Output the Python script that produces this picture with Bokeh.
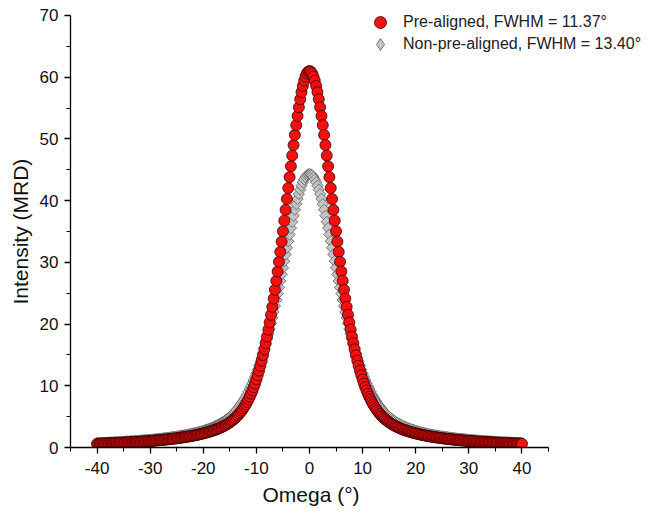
import math
from bokeh.plotting import figure
from bokeh.models import FixedTicker, Legend, LegendItem, Title
from bokeh.embed import file_html
from bokeh.resources import INLINE

# ---- data ----
# sampling grid of the omega scan: -40 .. 40 deg, step 0.25 deg
omega = [i * 0.25 for i in range(-160, 161)]

pre_aligned = [
    0.60, 0.61, 0.62, 0.63, 0.63, 0.64, 0.65, 0.66, 0.67, 0.68,
    0.69, 0.69, 0.70, 0.71, 0.72, 0.73, 0.74, 0.75, 0.76, 0.77,
    0.78, 0.80, 0.81, 0.82, 0.83, 0.84, 0.85, 0.87, 0.88, 0.89,
    0.91, 0.92, 0.93, 0.95, 0.96, 0.98, 0.99, 1.01, 1.02, 1.04,
    1.06, 1.07, 1.09, 1.11, 1.13, 1.15, 1.17, 1.19, 1.21, 1.23,
    1.25, 1.27, 1.29, 1.32, 1.34, 1.37, 1.39, 1.42, 1.44, 1.47,
    1.50, 1.53, 1.56, 1.59, 1.62, 1.65, 1.69, 1.72, 1.76, 1.79,
    1.83, 1.87, 1.91, 1.95, 1.99, 2.04, 2.08, 2.13, 2.18, 2.23,
    2.29, 2.34, 2.40, 2.46, 2.52, 2.58, 2.65, 2.72, 2.80, 2.87,
    2.95, 3.04, 3.13, 3.23, 3.33, 3.43, 3.55, 3.67, 3.79, 3.93,
    4.08, 4.23, 4.40, 4.58, 4.77, 4.98, 5.21, 5.45, 5.71, 5.99,
    6.30, 6.63, 6.98, 7.37, 7.78, 8.23, 8.71, 9.23, 9.78, 10.38,
    11.02, 11.71, 12.45, 13.23, 14.07, 14.96, 15.90, 16.91, 17.97, 19.08,
    20.26, 21.49, 22.79, 24.14, 25.55, 27.01, 28.52, 30.09, 31.70, 33.35,
    35.04, 36.76, 38.51, 40.27, 42.04, 43.81, 45.57, 47.31, 49.00, 50.65,
    52.23, 53.73, 55.13, 56.42, 57.58, 58.59, 59.44, 60.11, 60.60, 60.90,
    61.00,
    60.90, 60.60, 60.11, 59.44, 58.59, 57.58, 56.42, 55.13, 53.73, 52.23,
    50.65, 49.00, 47.31, 45.57, 43.81, 42.04, 40.27, 38.51, 36.76, 35.04,
    33.35, 31.70, 30.09, 28.52, 27.01, 25.55, 24.14, 22.79, 21.49, 20.26,
    19.08, 17.97, 16.91, 15.90, 14.96, 14.07, 13.23, 12.45, 11.71, 11.02,
    10.38, 9.78, 9.23, 8.71, 8.23, 7.78, 7.37, 6.98, 6.63, 6.30,
    5.99, 5.71, 5.45, 5.21, 4.98, 4.77, 4.58, 4.40, 4.23, 4.08,
    3.93, 3.79, 3.67, 3.55, 3.43, 3.33, 3.23, 3.13, 3.04, 2.95,
    2.87, 2.80, 2.72, 2.65, 2.58, 2.52, 2.46, 2.40, 2.34, 2.29,
    2.23, 2.18, 2.13, 2.08, 2.04, 1.99, 1.95, 1.91, 1.87, 1.83,
    1.79, 1.76, 1.72, 1.69, 1.65, 1.62, 1.59, 1.56, 1.53, 1.50,
    1.47, 1.44, 1.42, 1.39, 1.37, 1.34, 1.32, 1.29, 1.27, 1.25,
    1.23, 1.21, 1.19, 1.17, 1.15, 1.13, 1.11, 1.09, 1.07, 1.06,
    1.04, 1.02, 1.01, 0.99, 0.98, 0.96, 0.95, 0.93, 0.92, 0.91,
    0.89, 0.88, 0.87, 0.85, 0.84, 0.83, 0.82, 0.81, 0.80, 0.78,
    0.77, 0.76, 0.75, 0.74, 0.73, 0.72, 0.71, 0.70, 0.69, 0.69,
    0.68, 0.67, 0.66, 0.65, 0.64, 0.63, 0.63, 0.62, 0.61, 0.60,
]

non_pre_aligned = [
    0.73, 0.73, 0.74, 0.75, 0.76, 0.77, 0.78, 0.79, 0.80, 0.81,
    0.82, 0.83, 0.84, 0.86, 0.87, 0.88, 0.89, 0.90, 0.91, 0.93,
    0.94, 0.95, 0.97, 0.98, 0.99, 1.01, 1.02, 1.04, 1.05, 1.07,
    1.08, 1.10, 1.12, 1.13, 1.15, 1.17, 1.19, 1.20, 1.22, 1.24,
    1.26, 1.28, 1.30, 1.33, 1.35, 1.37, 1.39, 1.42, 1.44, 1.46,
    1.49, 1.52, 1.54, 1.57, 1.60, 1.63, 1.66, 1.69, 1.72, 1.75,
    1.78, 1.82, 1.85, 1.89, 1.92, 1.96, 2.00, 2.04, 2.08, 2.13,
    2.17, 2.22, 2.27, 2.32, 2.37, 2.42, 2.48, 2.53, 2.59, 2.65,
    2.72, 2.79, 2.86, 2.93, 3.01, 3.09, 3.17, 3.26, 3.35, 3.45,
    3.56, 3.66, 3.78, 3.90, 4.03, 4.16, 4.31, 4.46, 4.62, 4.79,
    4.97, 5.16, 5.37, 5.58, 5.81, 6.06, 6.32, 6.59, 6.88, 7.19,
    7.52, 7.87, 8.24, 8.62, 9.04, 9.47, 9.93, 10.41, 10.92, 11.46,
    12.02, 12.61, 13.23, 13.88, 14.55, 15.26, 15.99, 16.76, 17.56, 18.38,
    19.23, 20.12, 21.02, 21.96, 22.92, 23.91, 24.92, 25.94, 26.99, 28.05,
    29.12, 30.20, 31.28, 32.36, 33.44, 34.50, 35.55, 36.57, 37.56, 38.52,
    39.42, 40.27, 41.06, 41.78, 42.43, 42.98, 43.45, 43.82, 44.09, 44.25,
    44.30,
    44.25, 44.09, 43.82, 43.45, 42.98, 42.43, 41.78, 41.06, 40.27, 39.42,
    38.52, 37.56, 36.57, 35.55, 34.50, 33.44, 32.36, 31.28, 30.20, 29.12,
    28.05, 26.99, 25.94, 24.92, 23.91, 22.92, 21.96, 21.02, 20.12, 19.23,
    18.38, 17.56, 16.76, 15.99, 15.26, 14.55, 13.88, 13.23, 12.61, 12.02,
    11.46, 10.92, 10.41, 9.93, 9.47, 9.04, 8.62, 8.24, 7.87, 7.52,
    7.19, 6.88, 6.59, 6.32, 6.06, 5.81, 5.58, 5.37, 5.16, 4.97,
    4.79, 4.62, 4.46, 4.31, 4.16, 4.03, 3.90, 3.78, 3.66, 3.56,
    3.45, 3.35, 3.26, 3.17, 3.09, 3.01, 2.93, 2.86, 2.79, 2.72,
    2.65, 2.59, 2.53, 2.48, 2.42, 2.37, 2.32, 2.27, 2.22, 2.17,
    2.13, 2.08, 2.04, 2.00, 1.96, 1.92, 1.89, 1.85, 1.82, 1.78,
    1.75, 1.72, 1.69, 1.66, 1.63, 1.60, 1.57, 1.54, 1.52, 1.49,
    1.46, 1.44, 1.42, 1.39, 1.37, 1.35, 1.33, 1.30, 1.28, 1.26,
    1.24, 1.22, 1.20, 1.19, 1.17, 1.15, 1.13, 1.12, 1.10, 1.08,
    1.07, 1.05, 1.04, 1.02, 1.01, 0.99, 0.98, 0.97, 0.95, 0.94,
    0.93, 0.91, 0.90, 0.89, 0.88, 0.87, 0.86, 0.84, 0.83, 0.82,
    0.81, 0.80, 0.79, 0.78, 0.77, 0.76, 0.75, 0.74, 0.73, 0.73,
]

x_ticks = [-40, -30, -20, -10, 0, 10, 20, 30, 40]
x_minor = [-45, -35, -25, -15, -5, 5, 15, 25, 35, 45]
y_ticks = [0, 10, 20, 30, 40, 50, 60, 70]
y_minor = [5, 15, 25, 35, 45, 55, 65]

x_title = "Omega (°)"
y_title = "Intensity (MRD)"
label_pre = "Pre-aligned, FWHM = 11.37°"
label_non = "Non-pre-aligned, FWHM = 13.40°"

assert len(omega) == len(pre_aligned) == len(non_pre_aligned)

FONT = "Liberation Sans"

# the frame extends to the right and top edges so that the legend is not
# clipped; the axes themselves are bounded to -45..45 and 0..70
p = figure(width=648, height=519, output_backend="svg", toolbar_location=None,
           x_range=(-45, 63.83), y_range=(0, 72.43),
           min_border_left=70, min_border_right=0,
           min_border_top=0, min_border_bottom=72)
p.outline_line_color = None
p.xgrid.visible = False
p.ygrid.visible = False
p.background_fill_color = "white"
p.border_fill_color = "white"

r_non = p.scatter(omega, non_pre_aligned, marker="square", angle=math.pi / 4,
                  size=8, fill_color="#c4c4c4", line_color="#5e5e5e", line_width=0.8)
r_pre = p.scatter(omega, pre_aligned, marker="circle", size=11,
                  fill_color="#f51010", line_color="#3c0000", line_width=0.8)
# hidden renderer that only provides the diamond symbol of the legend
r_non_key = p.scatter(omega, non_pre_aligned, marker="diamond", size=20,
                      fill_color="#c4c4c4", line_color="#5e5e5e", line_width=0.8,
                      visible=False)

for ax, ticks, minor, lstand in ((p.xaxis[0], x_ticks, x_minor, 8),
                                 (p.yaxis[0], y_ticks, y_minor, 6)):
    ax.ticker = FixedTicker(ticks=ticks, minor_ticks=minor)
    ax.major_label_overrides = {t: str(t) for t in ticks}
    ax.major_label_text_font = FONT
    ax.major_label_text_font_size = "17px"
    ax.major_label_text_color = "#111111"
    ax.major_label_standoff = lstand
    ax.axis_line_color = "black"
    ax.axis_line_width = 1.3
    ax.major_tick_line_color = "black"
    ax.major_tick_line_width = 1.3
    ax.minor_tick_line_color = "black"
    ax.minor_tick_line_width = 1.1
    ax.major_tick_in = 0
    ax.major_tick_out = 6
    ax.minor_tick_in = 0
    ax.minor_tick_out = 4
p.xaxis[0].bounds = (-45, 45)
p.yaxis[0].bounds = (0, 70)

# axis titles centred on the bounded axes (not on the wider frame)
xt = Title(text=x_title, align="left", offset=192, standoff=8,
           text_font=FONT, text_font_style="normal", text_font_size="21px",
           text_color="#111111")
p.add_layout(xt, "below")
yt = Title(text=y_title, align="left", offset=143, standoff=10,
           text_font=FONT, text_font_style="normal", text_font_size="21px",
           text_color="#111111")
p.add_layout(yt, "left")


# legend symbols are 0.4 x the glyph box, so a 30 px box gives 12 px symbols;
# one legend per entry keeps the row pitch at ~22 px as in the reference
def make_legend(label, renderer, loc):
    lg = Legend(items=[LegendItem(label=label, renderers=[renderer])], location=loc)
    lg.label_text_font = FONT
    lg.label_text_font_size = "16px"
    lg.label_text_color = "#222222"
    lg.border_line_color = None
    lg.background_fill_alpha = 0
    lg.inactive_fill_alpha = 0
    lg.padding = 0
    lg.margin = 0
    lg.spacing = 0
    lg.glyph_width = 30
    lg.glyph_height = 30
    lg.label_height = 30
    lg.label_standoff = 8
    return lg


p.add_layout(make_legend(label_pre, r_pre, (295, 410)))
p.add_layout(make_legend(label_non, r_non_key, (295, 388)))

open("out.html", "w").write(file_html(p, INLINE))
